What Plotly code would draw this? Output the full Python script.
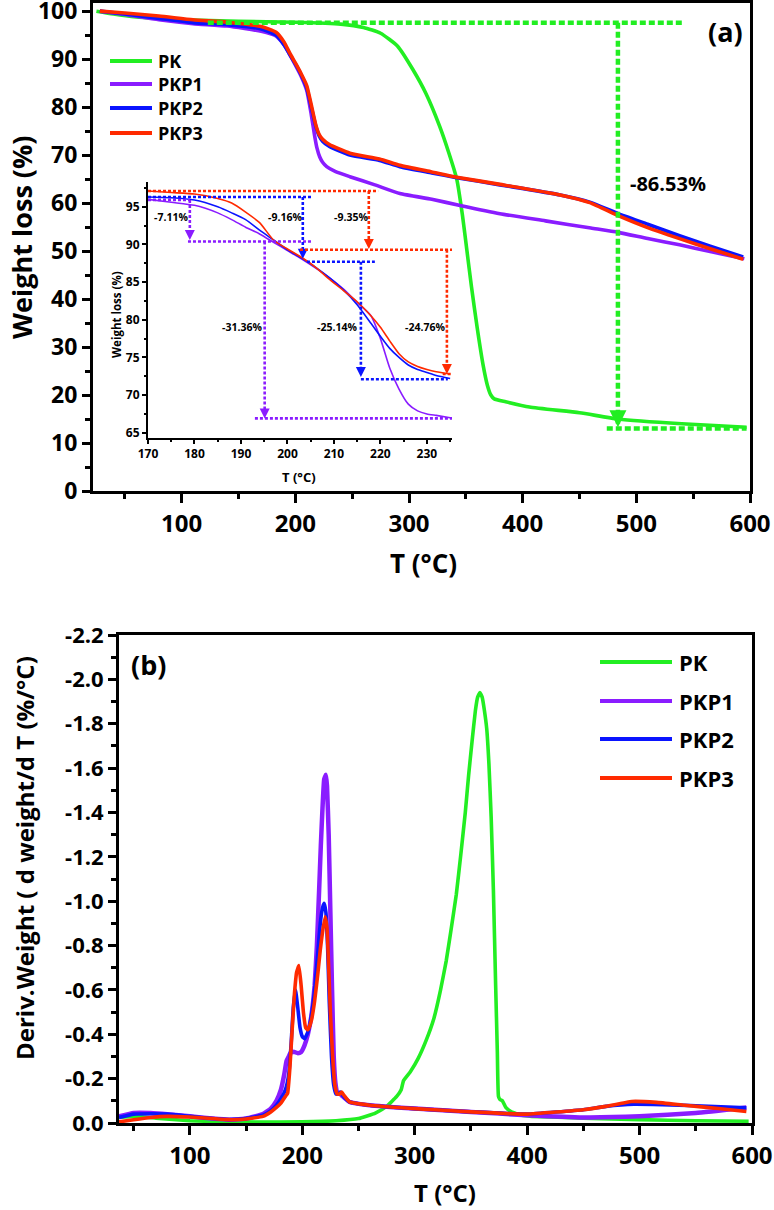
import plotly.graph_objects as go

FIG_W, FIG_H = 774, 1210
FONT = "Open Sans"

series_names = ["PK", "PKP1", "PKP2", "PKP3"]
series_colors = ["#22ee22", "#8a1cff", "#0a14ff", "#ff2a00"]

# ---------------- (a) TGA, main panel ----------------
tga_pk_T = [25, 40, 60, 100, 150, 200, 240, 260, 275, 290, 303, 315, 327, 335, 342, 347, 351, 355, 360, 365,
            369, 372, 375, 385, 406, 450, 484, 540, 597]
tga_pk_W = [100, 99.4, 98.8, 98.2, 97.9, 97.7, 97.3, 96.6, 95.4, 92.7, 88.0, 82.8, 76.0, 70.5, 65.0, 57.5, 50.0,
            42.5, 34.0, 26.5, 22.0, 20.0, 19.2, 18.6, 17.5, 16.3, 15.0, 14.0, 13.3]

tga_pkp1_T = [28, 50, 80, 110, 140, 170, 183, 190, 195, 200, 205, 210, 214, 217, 219, 221.5, 224, 227.6, 235, 248,
              270, 292, 320, 345, 380, 420, 460, 484, 510, 538, 565, 595]
tga_pkp1_W = [100, 99.3, 98.2, 97.4, 96.9, 95.8, 94.8, 93.0, 91.0, 88.8, 86.5, 83.5, 78.5, 74.0, 71.5, 69.6, 68.5,
              67.6, 66.6, 65.5, 63.8, 62.0, 60.8, 59.5, 57.8, 56.3, 54.8, 53.9, 52.6, 51.3, 49.9, 48.4]

tga_pkp23_T = [28, 50, 80, 110, 140, 170, 183, 190, 195, 200, 205, 210, 214, 218, 221, 224, 230, 248, 274, 292,
               320, 342, 380, 433, 459, 484, 510, 538, 565, 594]
tga_pkp2_W = [100, 99.4, 98.5, 97.6, 97.2, 96.3, 95.0, 93.0, 91.0, 89.0, 86.8, 84.0, 80.0, 76.0, 74.0, 72.9, 71.8,
              70.0, 68.9, 67.6, 66.3, 65.3, 63.8, 61.7, 60.2, 57.8, 55.6, 53.2, 51.0, 48.8]
tga_pkp3_W = [100, 99.6, 99.0, 98.2, 97.7, 96.8, 95.6, 93.6, 91.3, 89.2, 87.0, 84.5, 80.5, 76.3, 74.3, 73.3, 72.2,
              70.4, 69.2, 67.9, 66.5, 65.4, 63.9, 61.7, 60.1, 57.4, 54.9, 52.6, 50.5, 48.3]

# PK weight-loss guide (-86.53 %)
pk_guide_T = [123, 540, None, 483.8, 483.8, None, 474, 597]
pk_guide_W = [97.6, 97.6, None, 97.6, 14.0, None, 13.0, 13.0]
pk_arrow_T = [483.8]
pk_arrow_W = [13.3]
pk_loss_label = "-86.53%"
pk_loss_pos = (528, 64)

tga_xticks = [100, 200, 300, 400, 500, 600]
tga_xminor = [50, 150, 250, 350, 450, 550]
tga_yticks = [0, 10, 20, 30, 40, 50, 60, 70, 80, 90, 100]
tga_yminor = [5, 15, 25, 35, 45, 55, 65, 75, 85, 95]

# ---------------- (a) inset ----------------
inset_T = [170, 175, 180, 185, 188, 191, 194, 197, 200, 203, 206, 209, 212, 215, 218, 220, 222, 224, 226, 228,
           230, 232, 235]
inset_pkp1 = [96.0, 95.6, 95.2, 94.2, 93.3, 92.3, 91.4, 90.3, 89.2, 88.1, 86.9, 85.6, 84.1, 82.3, 80.5, 77.5, 73.6,
              70.8, 68.8, 67.9, 67.5, 67.3, 67.0]
inset_pkp2 = [96.3, 96.2, 95.9, 95.0, 94.2, 93.3, 91.9, 90.6, 89.3, 88.2, 87.0, 85.6, 84.0, 82.0, 79.5, 77.8, 76.2,
              75.0, 74.0, 73.4, 73.0, 72.6, 72.2]
inset_pkp3 = [97.1, 96.9, 96.7, 96.1, 95.5, 94.3, 92.9, 90.6, 89.4, 88.3, 87.0, 85.4, 83.9, 82.4, 80.5, 79.0, 77.2,
              75.5, 74.4, 73.8, 73.4, 73.1, 72.8]

inset_guide_pkp1_T = [170, 179, None, 179, 179, None, 178.6, 205.3, None, 195.1, 195.1, None, 193, 235.4]
inset_guide_pkp1_W = [95.9, 95.9, None, 95.9, 91.2, None, 90.4, 90.4, None, 90.4, 67.6, None, 66.9, 66.9]
inset_arrow_pkp1_T = [179, 195.1]
inset_arrow_pkp1_W = [90.6, 66.9]

inset_guide_pkp2_T = [170, 205.3, None, 203.3, 203.3, None, 204.2, 218.8, None, 215.8, 215.8, None, 215.8, 234.5]
inset_guide_pkp2_W = [96.3, 96.3, None, 96.3, 88.8, None, 87.7, 87.7, None, 87.7, 73.1, None, 72.1, 72.1]
inset_arrow_pkp2_T = [203.3, 215.8]
inset_arrow_pkp2_W = [88.1, 72.4]

inset_guide_pkp3_T = [170, 219.5, None, 217.5, 217.5, None, 202.7, 236.5, None, 234.3, 234.3, None, 233.4, 236.7]
inset_guide_pkp3_W = [97.1, 97.1, None, 97.1, 90.1, None, 89.3, 89.3, None, 89.3, 73.5, None, 72.8, 72.8]
inset_arrow_pkp3_T = [217.5, 234.3]
inset_arrow_pkp3_W = [89.4, 72.8]

inset_labels = ["-7.11%", "-9.16%", "-9.35%", "-31.36%", "-25.14%", "-24.76%"]
inset_label_T = [174.9, 199.5, 213.7, 190.2, 210.6, 229.6]
inset_label_W = [93.6, 93.6, 93.6, 79.1, 79.1, 79.1]

inset_xticks = [170, 180, 190, 200, 210, 220, 230]
inset_xminor = [175, 185, 195, 205, 215, 225, 235]
inset_yticks = [65, 70, 75, 80, 85, 90, 95]
inset_yminor = [67.5, 72.5, 77.5, 82.5, 87.5, 92.5, 97.5]

# ---------------- (b) DTG ----------------
dtg_pk_T = [37, 50, 70, 100, 130, 160, 200, 230, 250, 265, 275, 284, 288, 290, 296, 303, 310, 317, 323, 328,
            332, 337, 341, 345, 348, 351, 354, 356, 358, 360, 362, 364, 366, 368, 370, 372, 373.5, 374.5, 376, 378,
            381, 386, 395, 404, 450, 500, 550, 597]
dtg_pk_D = [-0.025, -0.03, -0.022, -0.01, -0.006, -0.004, -0.005, -0.01, -0.02, -0.045, -0.075, -0.12, -0.15, -0.19,
            -0.23, -0.29, -0.37, -0.47, -0.60, -0.73, -0.86, -1.03, -1.21, -1.40, -1.57, -1.72, -1.86, -1.92, -1.94,
            -1.92, -1.86, -1.78, -1.62, -1.38, -1.05, -0.62, -0.32, -0.12, -0.105, -0.10, -0.07, -0.05, -0.035,
            -0.03, -0.022, -0.015, -0.01, -0.008]

dtg_pkp1_T = [37, 50, 65, 80, 100, 120, 135, 150, 165, 172, 177, 181, 184, 186, 188, 190, 193, 196, 199, 202,
              205, 208, 211, 213, 215, 216.5, 218, 219.5, 221, 222, 223.5, 225, 226.5, 228, 229.5, 231, 233, 236,
              242, 260, 300, 350, 400, 450, 500, 550, 595]
dtg_pkp1_D = [-0.03, -0.045, -0.045, -0.04, -0.03, -0.02, -0.015, -0.02, -0.04, -0.065, -0.1, -0.15, -0.22, -0.28,
              -0.30, -0.32, -0.32, -0.315, -0.32, -0.35, -0.40, -0.48, -0.62, -0.80, -1.05, -1.25, -1.42, -1.55,
              -1.57, -1.52, -1.30, -0.95, -0.60, -0.30, -0.18, -0.14, -0.135, -0.12, -0.095, -0.08, -0.065, -0.05,
              -0.035, -0.025, -0.03, -0.045, -0.07]

dtg_pkp2_T = [37, 50, 65, 80, 100, 120, 135, 150, 165, 172, 177, 181, 185, 188, 190, 192, 194, 196, 198, 200,
              202, 205, 208, 211, 214, 216, 218, 219.5, 221, 222.5, 224, 226, 228, 230, 232, 234, 236, 242, 260, 300,
              350, 400, 450, 470, 495, 520, 550, 595]
dtg_pkp2_D = [-0.025, -0.04, -0.042, -0.04, -0.03, -0.02, -0.015, -0.02, -0.035, -0.055, -0.08, -0.11, -0.15, -0.22,
              -0.35, -0.52, -0.60, -0.52, -0.43, -0.39, -0.38, -0.41, -0.48, -0.60, -0.78, -0.90, -0.97, -0.99,
              -0.95, -0.80, -0.55, -0.30, -0.17, -0.13, -0.13, -0.14, -0.125, -0.095, -0.08, -0.065, -0.05, -0.04,
              -0.06, -0.075, -0.085, -0.083, -0.078, -0.068]

dtg_pkp3_T = [37, 50, 65, 80, 100, 120, 135, 150, 165, 172, 177, 181, 185, 187, 189, 191, 193, 195, 197, 199,
              201, 203, 205, 208, 211, 214, 216, 218, 220.4, 222, 223.5, 225, 227, 229, 231, 233, 235, 237, 242, 260,
              300, 350, 400, 450, 470, 493, 515, 540, 570, 595]
dtg_pkp3_D = [-0.005, -0.015, -0.025, -0.03, -0.027, -0.02, -0.015, -0.018, -0.03, -0.05, -0.07, -0.09, -0.12,
              -0.135, -0.25, -0.42, -0.58, -0.68, -0.71, -0.62, -0.50, -0.43, -0.42, -0.46, -0.55, -0.68, -0.78,
              -0.86, -0.93, -0.88, -0.70, -0.50, -0.30, -0.17, -0.13, -0.13, -0.14, -0.125, -0.095, -0.08, -0.065,
              -0.05, -0.04, -0.06, -0.075, -0.097, -0.093, -0.08, -0.065, -0.052]

dtg_xticks = [100, 200, 300, 400, 500, 600]
dtg_xminor = [50, 150, 250, 350, 450, 550]
dtg_yticks = [0, -0.2, -0.4, -0.6, -0.8, -1.0, -1.2, -1.4, -1.6, -1.8, -2.0, -2.2]
dtg_yticklabels = ["0.0", "-0.2", "-0.4", "-0.6", "-0.8", "-1.0", "-1.2", "-1.4", "-1.6", "-1.8", "-2.0", "-2.2"]
dtg_yminor = [-0.1, -0.3, -0.5, -0.7, -0.9, -1.1, -1.3, -1.5, -1.7, -1.9, -2.1]


# ---------------- helpers (pixel layout -> paper) ----------------
def px(x):
    return x / FIG_W


def py(y):
    return 1 - y / FIG_H


def bold(size):
    return dict(family=FONT, size=size, color="black", weight="bold")


fig = go.Figure()

# main TGA curves
tga_sets = [(tga_pk_T, tga_pk_W), (tga_pkp1_T, tga_pkp1_W), (tga_pkp23_T, tga_pkp2_W), (tga_pkp23_T, tga_pkp3_W)]
for (tx, wy), name, col in zip(tga_sets, series_names, series_colors):
    fig.add_trace(go.Scatter(x=tx, y=wy, mode="lines", name=name, showlegend=False,
                             line=dict(color=col, width=3.6, shape="spline", smoothing=0.5),
                             xaxis="x", yaxis="y"))

fig.add_trace(go.Scatter(x=pk_guide_T, y=pk_guide_W, mode="lines", showlegend=False,
                         line=dict(color=series_colors[0], width=4.5, dash="6px,3px"), xaxis="x", yaxis="y"))
fig.add_trace(go.Scatter(x=pk_arrow_T, y=pk_arrow_W, mode="markers", showlegend=False,
                         marker=dict(symbol="arrow-down", size=17, color=series_colors[0]),
                         xaxis="x", yaxis="y"))

# inset curves
inset_sets = [inset_pkp1, inset_pkp2, inset_pkp3]
for wy, col, name in zip(inset_sets, series_colors[1:], series_names[1:]):
    fig.add_trace(go.Scatter(x=inset_T, y=wy, mode="lines", name=name, showlegend=False,
                             line=dict(color=col, width=1.6, shape="spline", smoothing=0.6),
                             xaxis="x3", yaxis="y3"))

guides = [(inset_guide_pkp1_T, inset_guide_pkp1_W, inset_arrow_pkp1_T, inset_arrow_pkp1_W),
          (inset_guide_pkp2_T, inset_guide_pkp2_W, inset_arrow_pkp2_T, inset_arrow_pkp2_W),
          (inset_guide_pkp3_T, inset_guide_pkp3_W, inset_arrow_pkp3_T, inset_arrow_pkp3_W)]
for (gx, gy, ax_, ay_), col in zip(guides, series_colors[1:]):
    fig.add_trace(go.Scatter(x=gx, y=gy, mode="lines", showlegend=False,
                             line=dict(color=col, width=2.6, dash="3px,2px"), xaxis="x3", yaxis="y3"))
    fig.add_trace(go.Scatter(x=ax_, y=ay_, mode="markers", showlegend=False, cliponaxis=False,
                             marker=dict(symbol="arrow-down", size=10, color=col),
                             xaxis="x3", yaxis="y3"))

# DTG curves
dtg_sets = [(dtg_pk_T, dtg_pk_D), (dtg_pkp1_T, dtg_pkp1_D), (dtg_pkp2_T, dtg_pkp2_D), (dtg_pkp3_T, dtg_pkp3_D)]
dtg_widths = [3.6, 4.5, 3.6, 3.6]
for (tx, dy), name, col, lw in zip(dtg_sets, series_names, series_colors, dtg_widths):
    fig.add_trace(go.Scatter(x=tx, y=dy, mode="lines", name=name, showlegend=False,
                             line=dict(color=col, width=lw, shape="spline", smoothing=0.35),
                             xaxis="x2", yaxis="y2"))

axis_common = dict(showline=True, linecolor="black", showgrid=False, zeroline=False, ticks="outside",
                   tickcolor="black", automargin=False, ticklabeloverflow="allow")

fig.update_layout(
    width=FIG_W, height=FIG_H, margin=dict(l=0, r=0, t=0, b=0, pad=0),
    paper_bgcolor="white", plot_bgcolor="rgba(0,0,0,0)", showlegend=False,
    xaxis=dict(**axis_common, domain=[px(93), px(750)], range=[22, 600], anchor="y", mirror=True,
               linewidth=3, tickwidth=3, ticklen=9, tickvals=tga_xticks, tickfont=bold(24),
               minor=dict(tickvals=tga_xminor, ticklen=5, tickwidth=3, ticks="outside", tickcolor="black")),
    yaxis=dict(**axis_common, domain=[py(491), py(3)], range=[0, 101.7], anchor="x", mirror=True,
               linewidth=3, tickwidth=3, ticklen=8, tickvals=tga_yticks, tickfont=bold(23),
               minor=dict(tickvals=tga_yminor, ticklen=5, tickwidth=3, ticks="outside", tickcolor="black")),
    xaxis2=dict(**axis_common, domain=[px(119), px(752)], range=[37, 600], anchor="y2", mirror=True,
                linewidth=3, tickwidth=3, ticklen=9, tickvals=dtg_xticks, tickfont=bold(24),
                minor=dict(tickvals=dtg_xminor, ticklen=5, tickwidth=3, ticks="outside", tickcolor="black")),
    yaxis2=dict(**axis_common, domain=[py(1123), py(635)], range=[0, -2.2], anchor="x2", mirror=True,
                linewidth=3, tickwidth=3, ticklen=8, tickvals=dtg_yticks, ticktext=dtg_yticklabels,
                tickfont=bold(22),
                minor=dict(tickvals=dtg_yminor, ticklen=5, tickwidth=3, ticks="outside", tickcolor="black")),
    xaxis3=dict(**axis_common, domain=[px(148), px(452)], range=[170, 235.4], anchor="y3",
                linewidth=2, tickwidth=1.5, ticklen=4, tickvals=inset_xticks, tickfont=bold(12),
                minor=dict(tickvals=inset_xminor, ticklen=2, tickwidth=1.5, ticks="outside", tickcolor="black")),
    yaxis3=dict(**axis_common, domain=[py(438), py(182)], range=[64.3, 98.3], anchor="x3",
                linewidth=2, tickwidth=1.5, ticklen=4, tickvals=inset_yticks, tickfont=bold(12),
                minor=dict(tickvals=inset_yminor, ticklen=2, tickwidth=1.5, ticks="outside", tickcolor="black")),
)

ann = []


def paper_text(text, x, y, size, angle=0, xanchor="center"):
    ann.append(dict(text=text, x=px(x), y=py(y), xref="paper", yref="paper", showarrow=False,
                    xanchor=xanchor, yanchor="middle", textangle=angle, font=bold(size), borderpad=0))


paper_text("(a)", 725, 32, 27)
paper_text("(b)", 148, 664, 27)
paper_text("Weight loss (%)", 21, 238, 27, angle=-90)
paper_text("T (°C)", 423, 563, 26)
paper_text("Deriv.Weight ( d weight/d T (%/°C)", 24, 858, 24, angle=-90)
paper_text("T (°C)", 445, 1192, 24)
paper_text("Weight loss (%)", 116, 315, 11.5, angle=-90)
paper_text("T (°C)", 299, 477, 13)

ann.append(dict(text=pk_loss_label, x=pk_loss_pos[0], y=pk_loss_pos[1], xref="x", yref="y", showarrow=False,
                xanchor="center", yanchor="middle", font=bold(20), borderpad=0))
for lab, lx, ly in zip(inset_labels, inset_label_T, inset_label_W):
    ann.append(dict(text=lab, x=lx, y=ly, xref="x3", yref="y3", showarrow=False,
                    xanchor="center", yanchor="middle", font=bold(10.5), borderpad=0))

# legends (drawn manually to match the sample-line lengths of the original)
shapes = []
top_rows = [61, 84, 108, 133]
bot_rows = [662, 701, 739, 778]
for name, col, ty, by in zip(series_names, series_colors, top_rows, bot_rows):
    shapes.append(dict(type="line", xref="paper", yref="paper", x0=px(110), x1=px(152), y0=py(ty), y1=py(ty),
                       line=dict(color=col, width=4)))
    paper_text(name, 157, ty, 18, xanchor="left")
    shapes.append(dict(type="line", xref="paper", yref="paper", x0=px(600), x1=px(672), y0=py(by), y1=py(by),
                       line=dict(color=col, width=4)))
    paper_text(name, 678, by, 22, xanchor="left")

fig.update_layout(annotations=ann, shapes=shapes)

fig.write_html("out.html", config={"displayModeBar": False},
               post_script="document.body.style.margin='0';document.body.style.overflow='hidden';")
